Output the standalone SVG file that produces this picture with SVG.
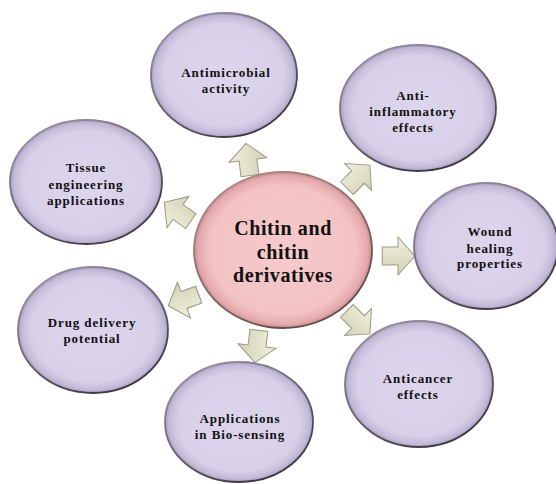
<svg xmlns="http://www.w3.org/2000/svg" width="556" height="484" viewBox="0 0 556 484">
<defs>
  <radialGradient id="gNode" cx="0.5" cy="0.5" r="0.5">
    <stop offset="0" stop-color="#ddd5ec"/>
    <stop offset="0.82" stop-color="#d8d0e8"/>
    <stop offset="0.95" stop-color="#c4bad8"/>
    <stop offset="1" stop-color="#a89cbd"/>
  </radialGradient>
  <radialGradient id="gCenter" cx="0.5" cy="0.5" r="0.5">
    <stop offset="0" stop-color="#f6c9ca"/>
    <stop offset="0.82" stop-color="#f3c3c4"/>
    <stop offset="0.95" stop-color="#e5aaac"/>
    <stop offset="1" stop-color="#c98d90"/>
  </radialGradient>
  <linearGradient id="gRim" x1="0.2" y1="0" x2="0.8" y2="1">
    <stop offset="0" stop-color="#9a93a6"/>
    <stop offset="1" stop-color="#34303a"/>
  </linearGradient>
  <linearGradient id="gRimC" x1="0.2" y1="0" x2="0.8" y2="1">
    <stop offset="0" stop-color="#b08c8e"/>
    <stop offset="1" stop-color="#5a4244"/>
  </linearGradient>
  <linearGradient id="gArrow" x1="0" y1="0" x2="0" y2="1">
    <stop offset="0" stop-color="#f1f0de"/>
    <stop offset="1" stop-color="#d3d1b4"/>
  </linearGradient>
  <path id="arrow" d="M-14,-8 L0,-8 L0,-17 L15,0 L0,17 L0,8 L-14,8 Z"/>
</defs>
<style>
  .node { fill: url(#gNode); stroke: url(#gRim); stroke-width: 1.8; }
  .center { fill: url(#gCenter); stroke: url(#gRimC); stroke-width: 1.8; }
  .lbl { font-family: "Liberation Serif", "Times New Roman", serif; font-weight: bold; font-size: 13px; letter-spacing: 0.9px; fill: #111; text-anchor: middle; }
  .clbl { font-family: "Liberation Serif", "Times New Roman", serif; font-weight: bold; font-size: 20px; letter-spacing: 0.6px; fill: #111; text-anchor: middle; }
  .arr { fill: url(#gArrow); stroke: #9b9985; stroke-width: 0.9; stroke-linejoin: miter; }
</style>
<rect width="556" height="484" fill="#ffffff"/>

<g id="connectors">
  <use href="#arrow" class="arr" transform="translate(248,160) rotate(-97) scale(1.12)"/>
  <use href="#arrow" class="arr" transform="translate(358,177) rotate(-45) scale(1.12)"/>
  <use href="#arrow" class="arr" transform="translate(178,212) rotate(-145) scale(1.12)"/>
  <use href="#arrow" class="arr" transform="translate(398,256) rotate(0) scale(1.12)"/>
  <use href="#arrow" class="arr" transform="translate(184,300) rotate(160) scale(1.12)"/>
  <use href="#arrow" class="arr" transform="translate(358,322) rotate(45) scale(1.12)"/>
  <use href="#arrow" class="arr" transform="translate(257,346) rotate(97) scale(1.12)"/>
</g>

<g id="node-center">
  <ellipse class="center" cx="283" cy="250" rx="89" ry="78"/>
  <text class="clbl" x="283" y="235">Chitin and</text>
  <text class="clbl" x="283" y="259">chitin</text>
  <text class="clbl" x="283" y="282">derivatives</text>
</g>

<g id="node-antimicrobial">
  <ellipse class="node" cx="224" cy="75" rx="73" ry="62"/>
  <text class="lbl" x="226" y="77">Antimicrobial</text>
  <text class="lbl" x="226" y="93">activity</text>
</g>

<g id="node-antiinflammatory">
  <ellipse class="node" cx="418" cy="108" rx="78" ry="63"/>
  <text class="lbl" x="413" y="100">Anti-</text>
  <text class="lbl" x="413" y="116">inflammatory</text>
  <text class="lbl" x="413" y="132">effects</text>
</g>

<g id="node-tissue">
  <ellipse class="node" cx="86" cy="182" rx="76" ry="62"/>
  <text class="lbl" x="86" y="172">Tissue</text>
  <text class="lbl" x="86" y="189">engineering</text>
  <text class="lbl" x="86" y="205">applications</text>
</g>

<g id="node-wound">
  <ellipse class="node" cx="486" cy="246" rx="72" ry="63"/>
  <text class="lbl" x="490" y="236">Wound</text>
  <text class="lbl" x="490" y="253">healing</text>
  <text class="lbl" x="490" y="268">properties</text>
</g>

<g id="node-drug">
  <ellipse class="node" cx="93" cy="330" rx="75" ry="63"/>
  <text class="lbl" x="92" y="327">Drug delivery</text>
  <text class="lbl" x="92" y="343">potential</text>
</g>

<g id="node-anticancer">
  <ellipse class="node" cx="419" cy="384" rx="74" ry="63"/>
  <text class="lbl" x="418" y="383">Anticancer</text>
  <text class="lbl" x="418" y="399">effects</text>
</g>

<g id="node-biosensing">
  <ellipse class="node" cx="239" cy="422" rx="74" ry="60"/>
  <text class="lbl" x="240" y="423">Applications</text>
  <text class="lbl" x="240" y="439">in Bio-sensing</text>
</g>
</svg>
